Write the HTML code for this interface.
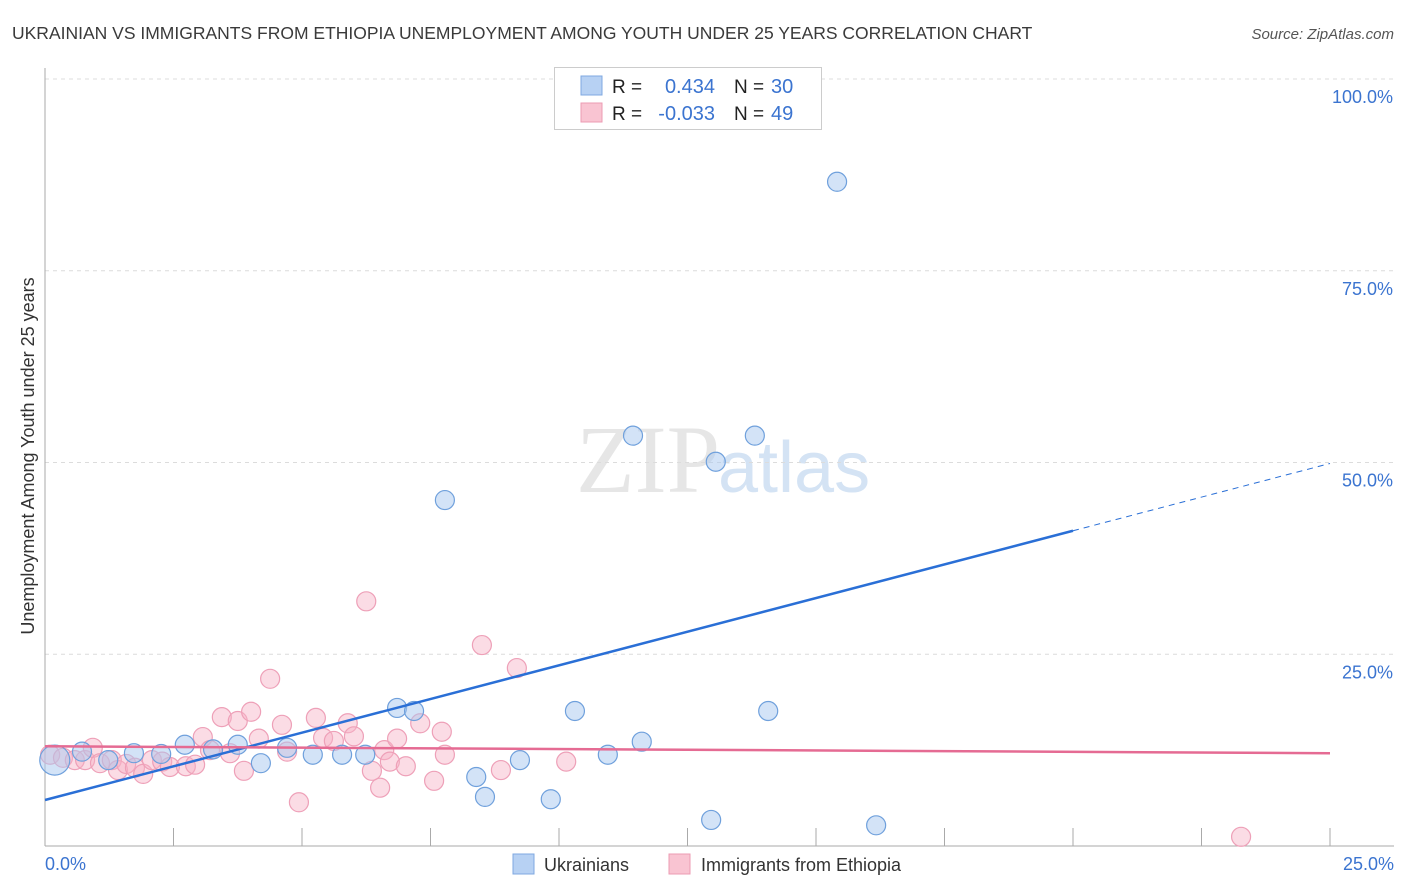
<!DOCTYPE html>
<html><head><meta charset="utf-8"><style>
body{margin:0;background:#fff;font-family:"Liberation Sans",sans-serif;}
svg{display:block}
</style></head><body>
<svg id="chart" width="1406" height="892">
<text x="12" y="39" font-size="17.5" fill="#3a3a3a">UKRAINIAN VS IMMIGRANTS FROM ETHIOPIA UNEMPLOYMENT AMONG YOUTH UNDER 25 YEARS CORRELATION CHART</text>
<text x="1394" y="39" font-size="15" fill="#555" font-style="italic" text-anchor="end">Source: ZipAtlas.com</text>
<text x="720" y="492" font-size="96" fill="#e6e6e6" text-anchor="end" font-family="Liberation Serif,serif">ZIP</text>
<text x="718" y="492" font-size="72" fill="#d4e3f4">atlas</text>
<g id="grid"></g>
<g id="axes"></g>
<g id="pts"></g>
<g id="lines"></g>
<text transform="translate(34,456) rotate(-90)" font-size="18" fill="#333" text-anchor="middle">Unemployment Among Youth under 25 years</text>
<text x="45" y="870" font-size="18" fill="#3b74d0">0.0%</text>
<text x="1394" y="870" font-size="18" fill="#3b74d0" text-anchor="end">25.0%</text>
<g>
<rect x="554.5" y="67.5" width="267" height="62" fill="#fff" stroke="#ccc"/>
<rect x="581" y="76" width="21" height="19" fill="#b7d1f3" stroke="#7fa8e0"/>
<rect x="581" y="103" width="21" height="19" fill="#f9c4d2" stroke="#ec9bb3"/>
<text x="612" y="93" font-size="19" fill="#222">R = </text><text x="715" y="93" font-size="20" fill="#3b74d0" text-anchor="end">0.434</text>
<text x="734" y="93" font-size="19" fill="#222">N = </text><text x="771" y="93" font-size="20" fill="#3b74d0">30</text>
<text x="612" y="120" font-size="19" fill="#222">R = </text><text x="715" y="120" font-size="20" fill="#3b74d0" text-anchor="end">-0.033</text>
<text x="734" y="120" font-size="19" fill="#222">N = </text><text x="771" y="120" font-size="20" fill="#3b74d0">49</text>
</g>
<g>
<rect x="513" y="854" width="21" height="20" fill="#b7d1f3" stroke="#7fa8e0"/>
<text x="544" y="871" font-size="18" fill="#333">Ukrainians</text>
<rect x="669" y="854" width="21" height="20" fill="#f9c4d2" stroke="#ec9bb3"/>
<text x="701" y="871" font-size="18" fill="#333">Immigrants from Ethiopia</text>
</g>
</svg>
<script>
const yTicks=[25,50,75,100];
const yTickLabels=["25.0%","50.0%","75.0%","100.0%"];
const xTicks=[2.5,5,7.5,10,12.5,15,17.5,20,22.5,25];
const ukrX=[0.19,0.72,1.23,1.73,2.26,2.72,3.27,3.75,4.20,4.71,5.21,5.78,6.23,6.85,7.18,7.78,8.39,8.56,9.24,9.84,10.31,10.95,11.44,11.61,12.96,13.05,13.81,14.07,15.41,16.17];
const ukrY=[11.2,12.3,11.2,12.1,12.0,13.2,12.6,13.2,10.8,12.8,11.9,11.9,11.9,18.0,17.6,45.1,9.0,6.4,11.2,6.1,17.6,11.9,53.5,13.6,3.4,50.1,53.5,17.6,86.6,2.7];
const ethX=[0.10,0.35,0.58,0.78,0.93,1.07,1.30,1.42,1.58,1.75,1.91,2.08,2.28,2.43,2.74,2.92,3.07,3.21,3.44,3.60,3.75,3.87,4.01,4.16,4.38,4.61,4.71,4.94,5.27,5.41,5.62,5.89,6.01,6.25,6.36,6.52,6.60,6.71,6.85,7.02,7.30,7.57,7.72,7.78,8.50,8.87,9.18,10.14,23.27];
const ethY=[11.9,11.5,11.2,11.2,12.8,10.8,11.2,9.9,10.7,10.2,9.4,11.2,11.0,10.3,10.4,10.6,14.2,12.5,16.8,12.1,16.3,9.8,17.5,14.0,21.8,15.8,12.3,5.7,16.7,14.1,13.7,16.0,14.3,31.9,9.8,7.6,12.5,11.0,14.0,10.4,16.0,8.5,14.9,11.9,26.2,9.9,23.2,11.0,1.2];
const ukrLine=[6.0,1.755]; // intercept, slope
const ethLine=[13.0,-0.036];
const X0=45,X1=1330,Y0=846,Y1=79;
const sx=v=>X0+(v/25)*(X1-X0);
const sy=v=>Y0-(v/100)*(Y0-Y1);
const NS="http://www.w3.org/2000/svg";
function mk(tag,attrs,parent){const e=document.createElementNS(NS,tag);for(const k in attrs)e.setAttribute(k,attrs[k]);parent.appendChild(e);return e;}
const grid=document.getElementById('grid'),axes=document.getElementById('axes'),pts=document.getElementById('pts'),lines=document.getElementById('lines');
yTicks.forEach((t,i)=>{
 const l=mk('line',{x1:X0,x2:1394,y1:sy(t),y2:sy(t),stroke:'#dcdcdc','stroke-dasharray':'4 4'},grid);
 
 
 const tx=mk('text',{x:1393,y:sy(t)+24,'font-size':18,fill:'#3b74d0','text-anchor':'end'},grid);
 tx.textContent=yTickLabels[i];
 
 
});
const ya=mk('line',{x1:X0,x2:X0,y1:68,y2:Y0,stroke:'#aaa'},axes);


const xa=mk('line',{x1:X0,x2:1394,y1:Y0,y2:Y0,stroke:'#aaa'},axes);


xTicks.forEach(t=>{
 const l=mk('line',{x1:sx(t),x2:sx(t),y1:828,y2:Y0,stroke:'#aaa'},axes);
 
 
});
ethX.forEach((x,i)=>{
 const c=mk('circle',{cx:sx(x),cy:sy(ethY[i]),r:9.5,fill:'rgba(246,178,198,0.45)',stroke:'#eea0b8','stroke-width':1.2},pts);
 
 
});
ukrX.forEach((x,i)=>{
 const c=mk('circle',{cx:sx(x),cy:sy(ukrY[i]),r:i===0?15:9.5,fill:'rgba(168,200,240,0.5)',stroke:'#6fa0dc','stroke-width':1.2},pts);
 
 
});
const f=(p,x)=>p[0]+p[1]*x;
const b1=mk('line',{x1:sx(0),y1:sy(f(ukrLine,0)),x2:sx(20),y2:sy(f(ukrLine,20)),stroke:'#2a6fd6','stroke-width':2.5},lines);


const b2=mk('line',{x1:sx(20),y1:sy(f(ukrLine,20)),x2:sx(25),y2:sy(f(ukrLine,25)),stroke:'#2a6fd6','stroke-width':1,'stroke-dasharray':'6 5'},lines);


const p1=mk('line',{x1:sx(0),y1:sy(f(ethLine,0)),x2:sx(25),y2:sy(f(ethLine,25)),stroke:'#e56b93','stroke-width':2.5},lines);


</script>
</body></html>
